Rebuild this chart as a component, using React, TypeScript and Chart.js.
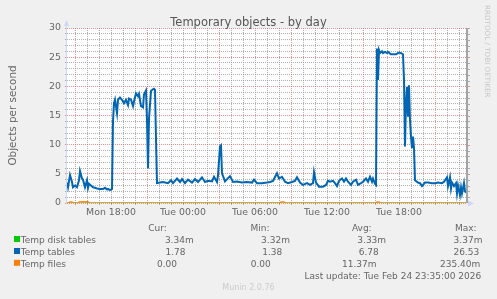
import { useEffect, useRef } from 'react';
import { Chart, registerables } from 'chart.js';

Chart.register(...registerables);

const FONT = "'DejaVu Sans', 'Noto Sans', sans-serif";

// Times are minutes since Monday 00:00 (5-minute samples)
const rangeStart = 860; // Mon 14:20
const rangeEnd = 2860; // Tue 23:40

const tempTablesTime = [
  860, 865, 875, 885, 890, 900, 910, 920, 925, 935, 940, 950, 960, 965, 970, 980, 990, 1000, 1010, 1025,
  1040, 1050, 1060, 1065, 1075, 1085, 1090, 1095, 1100, 1110, 1115, 1125, 1135, 1145, 1155, 1165, 1170,
  1180, 1190, 1195, 1205, 1215, 1220, 1230, 1240, 1245, 1255, 1260, 1265, 1270, 1280, 1290, 1295, 1300,
  1305, 1310, 1325, 1340, 1365, 1380, 1390, 1410, 1425, 1435, 1450, 1465, 1485, 1500, 1515, 1535, 1550,
  1565, 1585, 1595, 1610, 1615, 1625, 1630, 1635, 1650, 1675, 1690, 1710, 1735, 1760, 1785, 1795, 1810,
  1835, 1860, 1875, 1890, 1910, 1920, 1935, 1950, 1965, 1985, 2000, 2010, 2025, 2040, 2060, 2075, 2090,
  2095, 2105, 2120, 2140, 2155, 2165, 2175, 2190, 2200, 2210, 2220, 2235, 2245, 2255, 2265, 2280, 2290,
  2305, 2315, 2330, 2340, 2355, 2365, 2375, 2385, 2390, 2400, 2405, 2410, 2415, 2420, 2425, 2435, 2440,
  2450, 2460, 2465, 2480, 2490, 2505, 2515, 2520, 2530, 2540, 2545, 2550, 2555, 2560, 2565, 2570, 2575,
  2580, 2585, 2590, 2595, 2600, 2615, 2625, 2635, 2650, 2665, 2685, 2700, 2715, 2735, 2745, 2760, 2765,
  2775, 2780, 2785, 2795, 2805, 2810, 2815, 2825, 2830, 2835, 2845, 2850, 2855,
];
const tempTablesValue = [
  3.5, 2.7, 4.8, 3.6, 2.7, 3.0, 2.7, 3.9, 5.5, 4.2, 4.0, 2.7, 3.9, 2.6, 3.3, 3.0, 2.7, 2.6, 2.5, 2.4,
  2.4, 2.6, 2.3, 2.4, 2.2, 2.4, 14.0, 17.1, 17.7, 15.4, 17.7, 18.1, 17.7, 17.1, 17.7, 16.8, 17.9,
  17.7, 16.6, 17.4, 18.8, 18.3, 18.7, 16.6, 16.4, 18.6, 19.3, 14.2, 5.9, 14.5, 19.2, 19.5, 19.6, 19.4,
  11.0, 3.4, 3.5, 3.6, 3.4, 3.9, 3.4, 4.2, 3.6, 4.1, 3.4, 4.0, 3.5, 4.1, 3.6, 4.4, 3.6,
  3.8, 3.7, 4.5, 3.6, 4.7, 9.7, 9.9, 5.1, 3.7, 4.6, 3.6, 3.7, 3.5, 3.6, 3.5, 4.0, 3.4,
  3.4, 3.5, 3.6, 3.8, 5.1, 4.2, 4.5, 3.65, 3.4, 3.6, 3.8, 4.4, 3.5, 3.1, 3.4, 3.1, 3.4,
  5.3, 3.5, 2.8, 2.8, 3.1, 3.8, 3.65, 3.8, 3.4, 2.9, 3.8, 4.2, 3.65, 4.2, 3.65, 3.1, 3.65,
  4.0, 3.1, 3.4, 3.65, 4.2, 3.65, 4.5, 3.65, 4.2, 3.3, 3.1, 26.5, 21.1, 26.2, 25.7, 26.0, 25.7,
  25.9, 25.7, 25.9, 25.5, 25.5, 25.5, 25.7, 25.8, 25.7, 25.5, 21.1, 9.7, 17.1, 19.9, 14.8, 20.2, 14.2,
  11.4, 9.4, 11.4, 9.4, 3.9, 3.5, 3.4, 2.9, 3.5, 3.5, 3.4, 3.4, 3.5, 3.4, 3.65, 4.4, 2.9,
  4.4, 2.5, 3.5, 2.9, 3.4, 1.65, 3.0, 1.4, 2.7, 1.65, 3.4, 2.0, 1.78,
];

const tempFilesTime = [860, 870, 875, 885, 890, 915, 920, 965, 970, 1925, 1930, 1945, 1950, 2405, 2410, 2420, 2425, 2855];
const tempFilesValue = [0, 0, 0.2, 0.2, 0, 0, 0.2, 0.235, 0, 0, 0.2, 0.2, 0, 0, 0.2, 0.2, 0, 0];

const tempDiskTime = [860, 2855];
const tempDiskValue = [0.00334, 0.00334];

const xLabelTimes = [1080, 1440, 1800, 2160, 2520];
const xLabelTexts = ['Mon 18:00', 'Tue 00:00', 'Tue 06:00', 'Tue 12:00', 'Tue 18:00'];
const xMajorTimes = [900, 1260, 1620, 1980, 2340, 2700];
const xMinorStep = 60;
const yMin = 0;
const yMax = 30;
const yLabelStep = 5;

const title = 'Temporary objects - by day';
const yTitle = 'Objects per second';
const sideText = 'RRDTOOL / TOBI OETIKER';
const legendNames = ['Temp disk tables', 'Temp tables', 'Temp files'];
const legendColors = ['#00CC00', '#0066B3', '#FF8000'];
const legendHeaders = ['Cur:', 'Min:', 'Avg:', 'Max:'];
const curValues = ['3.34m', '1.78', '0.00'];
const minValues = ['3.32m', '1.38', '0.00'];
const avgValues = ['3.33m', '6.78', '11.37m'];
const maxValues = ['3.37m', '26.53', '235.40m'];
const lastUpdate = 'Last update: Tue Feb 24 23:35:00 2026';
const footer = 'Munin 2.0.76';

const MAJOR = 'rgba(222,79,79,0.6)';
const MINOR = 'rgba(143,143,143,0.7)';
const AXIS = '#CFD6F8';
const TEXT = '#666666';

const pts = (t: number[], v: number[]) => t.map((x, i) => ({ x, y: v[i] }));

const muninPlugin = {
  id: 'munin',
  beforeDraw(chart: any) {
    const { ctx, chartArea: a } = chart;
    ctx.save();
    ctx.fillStyle = '#F0F0F0';
    ctx.fillRect(0, 0, chart.width, chart.height);
    ctx.fillStyle = '#FFFFFF';
    ctx.fillRect(a.left, a.top, a.right - a.left, a.bottom - a.top);
    ctx.restore();
  },
  afterDraw(chart: any) {
    const { ctx, chartArea: a } = chart;
    const ys = chart.scales.y;
    ctx.save();
    // right frame + outside ticks
    ctx.fillStyle = '#A4A4A4';
    ctx.fillRect(a.right - 1, a.top, 2, a.bottom - a.top);
    ctx.lineWidth = 1;
    for (let v = yMin; v <= yMax; v++) {
      const y = Math.round(ys.getPixelForValue(v)) + 0.5;
      ctx.strokeStyle = v % yLabelStep === 0 ? MAJOR : MINOR;
      ctx.beginPath();
      ctx.moveTo(a.right + 1, y);
      ctx.lineTo(a.right + 3, y);
      ctx.stroke();
    }
    // left axis + arrow
    ctx.strokeStyle = AXIS;
    ctx.fillStyle = AXIS;
    ctx.beginPath();
    ctx.moveTo(a.left - 0.5, a.bottom + 1);
    ctx.lineTo(a.left - 0.5, a.top - 3);
    ctx.stroke();
    ctx.beginPath();
    ctx.moveTo(a.left - 3, a.top - 2);
    ctx.lineTo(a.left + 2, a.top - 2);
    ctx.lineTo(a.left - 0.5, a.top - 8);
    ctx.closePath();
    ctx.fill();
    // bottom arrow
    ctx.beginPath();
    ctx.moveTo(a.right + 1, a.bottom - 2.5);
    ctx.lineTo(a.right + 1, a.bottom + 3.5);
    ctx.lineTo(a.right + 7, a.bottom + 0.5);
    ctx.closePath();
    ctx.fill();

    // title
    ctx.fillStyle = '#555555';
    ctx.textAlign = 'center';
    ctx.textBaseline = 'alphabetic';
    ctx.font = `11.5px ${FONT}`;
    ctx.fillText(title, chart.width / 2, 26);

    // y title
    ctx.save();
    ctx.translate(16, (a.top + a.bottom) / 2);
    ctx.rotate(-Math.PI / 2);
    ctx.font = `10.4px ${FONT}`;
    ctx.fillStyle = TEXT;
    ctx.textAlign = 'center';
    ctx.fillText(yTitle, 0, 0);
    ctx.restore();

    // side text
    ctx.save();
    ctx.translate(484.5, 5);
    ctx.rotate(Math.PI / 2);
    ctx.font = `7.2px ${FONT}`;
    ctx.fillStyle = '#C8C8C8';
    ctx.textAlign = 'left';
    ctx.fillText(sideText, 0, 0);
    ctx.restore();

    // legend
    ctx.font = `9px ${FONT}`;
    ctx.fillStyle = TEXT;
    ctx.textAlign = 'center';
    const colX = [157.5, 260, 361.8, 465.8];
    legendHeaders.forEach((h, i) => ctx.fillText(h, colX[i], 230.5));
    const rowY = [243, 255, 266.8];
    const valX = [
      [179.3, 275.5, 371.7, 468],
      [175.5, 272.3, 368.7, 466.3],
      [167, 260.7, 359.2, 460.2],
    ];
    legendNames.forEach((name, r) => {
      ctx.fillStyle = legendColors[r];
      ctx.fillRect(14, rowY[r] - 7, 6, 6);
      ctx.fillStyle = TEXT;
      ctx.textAlign = 'left';
      ctx.fillText(name, 20.7, rowY[r]);
      ctx.textAlign = 'center';
      const vals = [curValues[r], minValues[r], avgValues[r], maxValues[r]];
      vals.forEach((v, c) => ctx.fillText(v, valX[r][c], rowY[r]));
    });
    ctx.fillText(lastUpdate, 392.8, 278.5);
    ctx.fillStyle = '#CCCCCC';
    ctx.font = `8px ${FONT}`;
    ctx.fillText(footer, chart.width / 2, 290);
    ctx.restore();
  },
};

export default function App() {
  const ref = useRef<HTMLCanvasElement>(null);
  useEffect(() => {
    if (!ref.current) return;
    const chart = new Chart(ref.current, {
      type: 'line',
      data: {
        datasets: [
          { label: 'Temp files', data: pts(tempFilesTime, tempFilesValue), borderColor: '#FF8000', borderWidth: 1.2, pointRadius: 0, order: 0 },
          { label: 'Temp tables', data: pts(tempTablesTime, tempTablesValue), borderColor: '#0066B3', borderWidth: 2, pointRadius: 0, order: 1 },
          { label: 'Temp disk tables', data: pts(tempDiskTime, tempDiskValue), borderColor: '#00CC00', borderWidth: 1.2, pointRadius: 0, order: 2 },
        ],
      },
      options: {
        responsive: false,
        animation: false,
        devicePixelRatio: 1,
        parsing: false as any,
        layout: { padding: { left: 0, top: 28, right: 30, bottom: 76 } },
        plugins: { legend: { display: false }, tooltip: { enabled: false }, title: { display: false } },
        scales: {
          x: {
            type: 'linear',
            min: rangeStart,
            max: rangeEnd,
            afterBuildTicks: (s: any) => {
              const t = [];
              for (let v = Math.ceil(rangeStart / xMinorStep) * xMinorStep; v < rangeEnd; v += xMinorStep) t.push({ value: v });
              s.ticks = t;
            },
            afterFit: (s: any) => { s.height = 20; },
            ticks: {
              autoSkip: false,
              maxRotation: 0,
              minRotation: 0,
              padding: 2,
              color: TEXT,
              font: { family: FONT, size: 9.4 },
              callback: (v: any) => {
                const i = xLabelTimes.indexOf(Number(v));
                return i >= 0 ? xLabelTexts[i] : '';
              },
            },
            grid: {
              color: (c: any) => (c.tick && xMajorTimes.includes(c.tick.value) ? MAJOR : MINOR),
              lineWidth: 1,
              tickLength: 2,
            },
            border: { display: false, dash: [1, 1] },
          },
          y: {
            type: 'linear',
            min: yMin,
            max: yMax,
            afterBuildTicks: (s: any) => {
              const t = [];
              for (let v = yMin; v <= yMax; v++) t.push({ value: v });
              s.ticks = t;
            },
            afterFit: (s: any) => { s.width = 67; },
            ticks: {
              autoSkip: false,
              padding: 4,
              color: TEXT,
              font: { family: FONT, size: 9.4 },
              callback: (v: any) => (Number(v) % yLabelStep === 0 ? String(v) : ''),
            },
            grid: {
              color: (c: any) => (c.tick && c.tick.value % yLabelStep === 0 ? MAJOR : MINOR),
              lineWidth: 1,
              tickLength: 2,
            },
            border: { display: false, dash: [1, 1] },
          },
        },
      },
      plugins: [muninPlugin],
    } as any);
    return () => chart.destroy();
  }, []);
  return (
    <div style={{ position: 'absolute', left: 0, top: 0, width: 497, height: 299 }}>
      <canvas ref={ref} width={497} height={299} style={{ display: 'block' }} />
    </div>
  );
}
